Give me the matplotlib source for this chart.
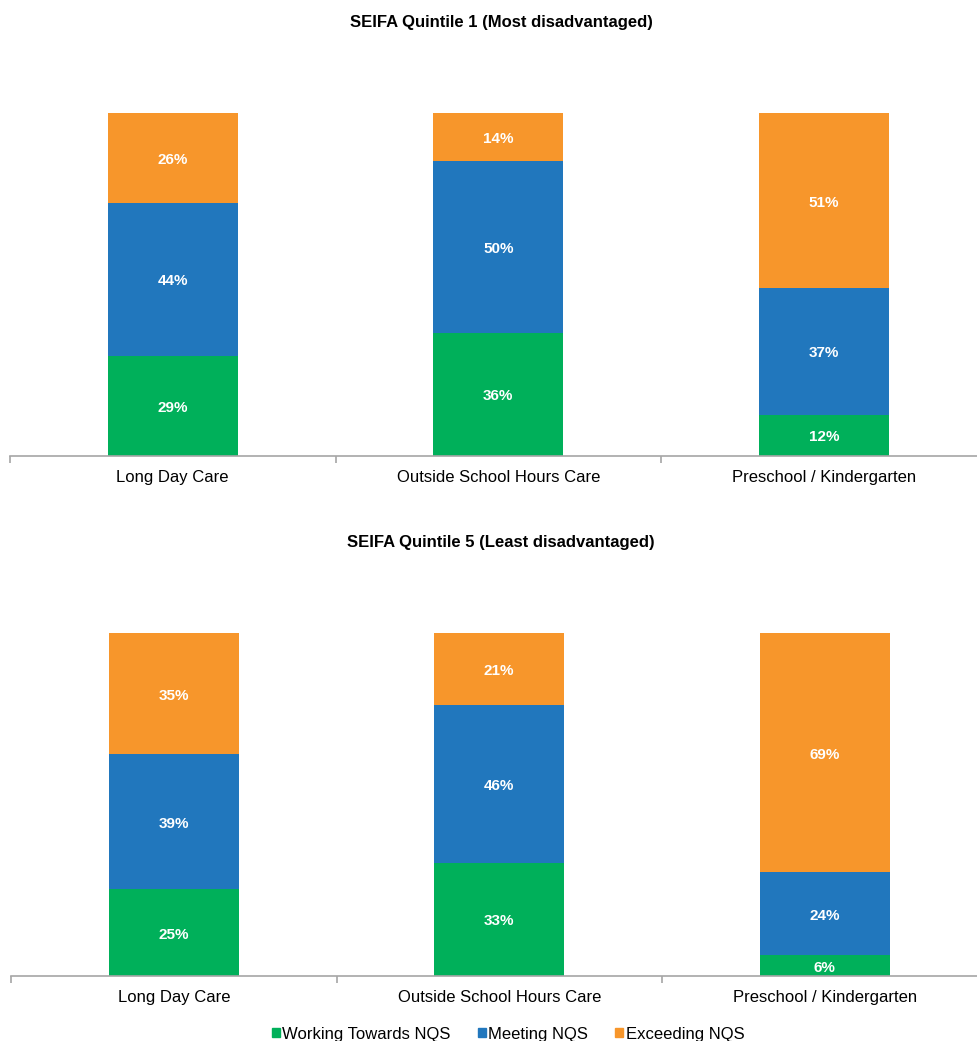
import numpy as np
import matplotlib
matplotlib.use('Agg')
import matplotlib.pyplot as plt
from matplotlib.patches import Patch

plt.rcParams['font.family'] = ['Liberation Sans', 'DejaVu Sans']

# Data (percent of services)
categories = ['Long Day Care', 'Outside School Hours Care', 'Preschool / Kindergarten']
series = ['Working Towards NQS', 'Meeting NQS', 'Exceeding NQS']
colors = ['#00B05A', '#2177BD', '#F7962B']

q1_working = [29, 36, 12]
q1_meeting = [44, 50, 37]
q1_exceeding = [26, 14, 51]

q5_working = [25, 33, 6]
q5_meeting = [39, 46, 24]
q5_exceeding = [35, 21, 69]

titles = ['SEIFA Quintile 1 (Most disadvantaged)', 'SEIFA Quintile 5 (Least disadvantaged)']
panels = [(q1_working, q1_meeting, q1_exceeding), (q5_working, q5_meeting, q5_exceeding)]

W, H = 977, 1041
fig = plt.figure(figsize=(W / 100, H / 100), dpi=100)

# axes positions in pixels: (left, bottom y, top y, title y)
layout = [(10, 456, 113, 22), (11, 976, 633, 543)]
cat_w = 325.5

for (left, ybot, ytop, ytitle), title, vals in zip(layout, titles, panels):
    ax = fig.add_axes([left / W, 1 - ybot / H, 3 * cat_w / W, (ybot - ytop) / H])
    data = np.array(vals, dtype=float)
    # 100% stacked: normalise each column
    shares = data / data.sum(axis=0)
    x = np.arange(len(categories))
    bottom = np.zeros(len(categories))
    for i in range(len(series)):
        ax.bar(x, shares[i], 0.4, bottom=bottom, color=colors[i])
        for j in range(len(categories)):
            ax.text(x[j], bottom[j] + shares[i][j] / 2 - 0.006, f'{int(data[i][j])}%',
                    ha='center', va='center', color='white', fontsize=11,
                    fontweight='bold')
        bottom += shares[i]
    ax.set_xlim(-0.5, 2.5)
    ax.set_ylim(0, 1)
    for s in ['top', 'right', 'left']:
        ax.spines[s].set_visible(False)
    ax.spines['bottom'].set_color('#A6A6A6')
    ax.spines['bottom'].set_linewidth(1.2)
    ax.set_yticks([])
    ax.set_xticks(x)
    ax.set_xticklabels(categories, fontsize=12)
    ax.tick_params(axis='x', length=0, pad=10)
    ax.set_xticks([-0.5, 0.5, 1.5, 2.5], minor=True)
    ax.tick_params(axis='x', which='minor', length=5, color='#A6A6A6', width=1.2)
    fig.text(501 / W, 1 - ytitle / H, title, ha='center', va='center',
             fontsize=12, fontweight='bold')

handles = [Patch(color=c) for c in colors]
fig.legend(handles, series, loc='center', bbox_to_anchor=(508 / W, 1 - 1034 / H),
           ncol=3, frameon=False, fontsize=12, handlelength=0.5, handleheight=0.5,
           handletextpad=0.15, columnspacing=1.6)

fig.savefig('out.png', dpi=100)
